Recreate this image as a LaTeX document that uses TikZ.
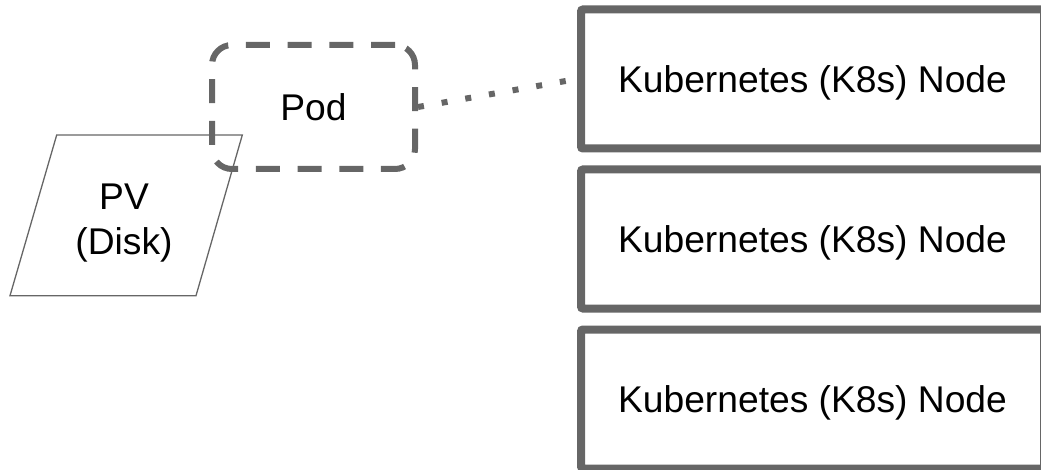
\documentclass[tikz,border=0pt]{standalone}
\usepackage{fontspec}
\setmainfont{Liberation Sans}
\usepackage{tikz}
\usepackage{xcolor}
\usetikzlibrary{positioning}
\definecolor{linegray}{HTML}{666666}

\begin{document}
\begin{tikzpicture}[x=1pt,y=1pt]
\tikzset{k8snode/.style={draw=linegray,line width=8pt,rounded corners=2pt,minimum width=463pt,minimum height=139pt,inner sep=0pt,text depth=0pt}}
\tikzset{podbox/.style={draw=linegray,line width=6pt,dash pattern=on 24pt off 17.7pt,rounded corners=20pt,minimum width=203pt,minimum height=124pt}}
\tikzset{diskedge/.style={draw=linegray,line width=1.3pt}}
\tikzset{dotline/.style={draw=linegray,line width=6pt,dash pattern=on 6pt off 18pt,shorten >=5pt}}

\fontsize{37.2}{44.6}\selectfont

\useasboundingbox (0,0) rectangle (1041,469);
\clip (0,0) rectangle (1041,469);

% the three cluster nodes
\node[k8snode] (k1) at (812.5,390) {Kubernetes (K8s) Node};
\node[k8snode,below=13pt of k1] (k2) {Kubernetes (K8s) Node};
\node[k8snode,below=13pt of k2] (k3) {Kubernetes (K8s) Node};

% persistent volume
\coordinate (pvbl) at (10,173.3);
\coordinate (pvtl) at (56.7,334);
\coordinate (pvtr) at (242.3,334);
\coordinate (pvbr) at (196,173.3);
\draw[diskedge] (pvbl) -- (pvtl) -- (pvtr) -- (pvbr) -- cycle;
\node[align=center] (pv) at (124,246) {PV\\(Disk)};

% pod
\node[podbox] (pod) at (313.5,362) {Pod};

\draw[dotline] (pod.east) -- (k1.west);

\end{tikzpicture}
\end{document}
